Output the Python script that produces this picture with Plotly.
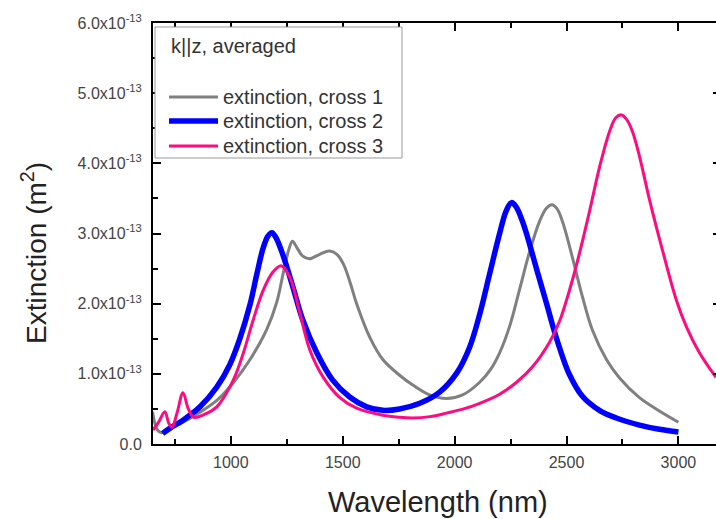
import plotly.graph_objects as go

# Wavelength (nm) and extinction (units of 1e-13 m^2)
wl_cross1 = [650, 660, 672, 690, 720, 780, 860, 940, 1010, 1085, 1160, 1205, 1235, 1258, 1275, 1295,
             1320, 1350, 1395, 1440, 1475, 1505, 1535, 1562, 1621, 1680, 1754, 1813, 1888, 1964,
             2036, 2112, 2160, 2201, 2246, 2290, 2335, 2379, 2410, 2435, 2458, 2482, 2527, 2571,
             2616, 2679, 2737, 2826, 2915, 3000]
ext_cross1 = [0.46, 0.3, 0.2, 0.16, 0.2, 0.3, 0.45, 0.63, 0.87, 1.2, 1.63, 2.02, 2.45, 2.76, 2.89, 2.8,
              2.68, 2.64, 2.7, 2.75, 2.7, 2.55, 2.28, 2.0, 1.52, 1.2, 0.98, 0.84, 0.7, 0.65,
              0.7, 0.88, 1.06, 1.3, 1.68, 2.2, 2.74, 3.17, 3.36, 3.41, 3.35, 3.17, 2.65, 2.1,
              1.62, 1.2, 0.94, 0.66, 0.47, 0.31]

wl_cross2 = [695, 730, 786, 862, 937, 995, 1040, 1085, 1116, 1143, 1165, 1183, 1200, 1232, 1277,
             1321, 1384, 1455, 1531, 1607, 1679, 1754, 1844, 1933, 2009, 2067, 2112, 2156, 2201,
             2230, 2254, 2275, 2300, 2321, 2348, 2379, 2411, 2437, 2469, 2513, 2571, 2647, 2723,
             2826, 2915, 3000]
ext_cross2 = [0.15, 0.23, 0.34, 0.53, 0.81, 1.13, 1.5, 1.98, 2.42, 2.78, 2.96, 3.01, 2.95, 2.7, 2.24,
              1.77, 1.3, 0.91, 0.67, 0.53, 0.48, 0.5, 0.58, 0.74, 1.01, 1.38, 1.85, 2.42, 3.0,
              3.32, 3.44, 3.38, 3.2, 3.0, 2.7, 2.35, 2.0, 1.7, 1.37, 0.99, 0.68, 0.48, 0.37,
              0.27, 0.21, 0.17]

wl_cross3 = [652, 675, 705, 722, 737, 760, 786, 810, 835, 880, 937, 1009, 1054, 1098, 1143, 1188,
             1225, 1263, 1308, 1353, 1411, 1487, 1562, 1679, 1754, 1813, 1890, 1964, 2040, 2112,
             2201, 2277, 2348, 2424, 2470, 2500, 2530, 2558, 2603, 2647, 2692, 2720, 2746, 2770,
             2795, 2826, 2871, 2929, 2991, 3036, 3094, 3168]
ext_cross3 = [0.2, 0.3, 0.46, 0.3, 0.24, 0.45, 0.73, 0.5, 0.38, 0.42, 0.53, 0.9, 1.28, 1.75, 2.18, 2.45,
              2.54, 2.38, 1.87, 1.34, 0.96, 0.66, 0.51, 0.41, 0.38, 0.37, 0.39, 0.44, 0.5, 0.58,
              0.71, 0.88, 1.1, 1.45, 1.76, 2.05, 2.38, 2.72, 3.32, 3.94, 4.45, 4.65, 4.69, 4.62,
              4.45, 4.1, 3.48, 2.76, 2.05, 1.67, 1.3, 0.95]

series_names = ["extinction, cross 1", "extinction, cross 2", "extinction, cross 3"]
legend_title = "k||z, averaged"
y_tick_vals = [0, 1, 2, 3, 4, 5, 6]
y_tick_text = ["0.0"] + [f"{v}.0x10<sup>-13</sup>" for v in y_tick_vals[1:]]
x_tick_vals = [1000, 1500, 2000, 2500, 3000]
SCALE = 1e-13

colors = ["#808080", "#0000FF", "#FF0A80"]
widths = [3, 5.5, 3]

FONT = "Liberation Sans, Arial, sans-serif"

# plot-area geometry (pixels)
L, R, T, B = 153, 716, 23, 444
W, H = R - L, B - T


def px(xp):
    return (xp - L) / W


def py(yp):
    return (B - yp) / H


fig = go.Figure()
for wl, ext, name, c, w in zip([wl_cross1, wl_cross2, wl_cross3],
                               [ext_cross1, ext_cross2, ext_cross3],
                               series_names, colors, widths):
    fig.add_trace(go.Scatter(x=wl, y=[v * SCALE for v in ext], mode="lines", name=name,
                             showlegend=False,
                             line=dict(color=c, width=w, shape="spline", smoothing=1.0)))

# invisible trace bound to right-side axis (for its inner ticks)
fig.add_trace(go.Scatter(x=[], y=[], yaxis="y2", showlegend=False, hoverinfo="skip"))

tick_font = dict(family=FONT, size=16, color="#444444")

# legend drawn as box + samples + texts
shapes = [dict(type="rect", xref="paper", yref="paper", x0=px(155), x1=px(402), y0=py(158), y1=py(27),
               line=dict(color="#999999", width=1), fillcolor="white", layer="above")]
annotations = [dict(text=legend_title, xref="paper", yref="paper", x=px(169), y=py(46),
                    xanchor="left", yanchor="middle", showarrow=False,
                    font=dict(family=FONT, size=20, color="#333333"))]
for i, (name, c, w) in enumerate(zip(series_names, colors, widths)):
    yy = [97, 121, 146][i]
    shapes.append(dict(type="line", xref="paper", yref="paper", x0=px(169), x1=px(218),
                       y0=py(yy), y1=py(yy), line=dict(color=c, width=w), layer="above"))
    annotations.append(dict(text=name, xref="paper", yref="paper", x=px(221), y=py(yy),
                            xanchor="left", yanchor="middle", showarrow=False,
                            font=dict(family=FONT, size=20, color="#333333")))

annotations += [
    dict(text="Extinction (m<sup>2</sup>)", xref="paper", yref="paper",
         x=px(34), y=py(253), textangle=-90, showarrow=False,
         xanchor="center", yanchor="middle", font=dict(family=FONT, size=28, color="#222222")),
    dict(text="Wavelength (nm)", xref="paper", yref="paper",
         x=px(438), y=py(502), showarrow=False,
         xanchor="center", yanchor="middle", font=dict(family=FONT, size=29, color="#222222")),
]

fig.update_layout(
    width=716, height=519,
    margin=dict(l=L, r=716 - R, t=T, b=519 - B),
    paper_bgcolor="white", plot_bgcolor="white",
    font=dict(family=FONT, color="#222222"),
    showlegend=False,
    xaxis=dict(range=[652, 3168], tickvals=x_tick_vals, ticks="inside", ticklen=8, tickwidth=2,
               tickcolor="black", showline=True, linecolor="black", linewidth=2, mirror="ticks",
               showgrid=False, zeroline=False, tickfont=tick_font, ticklabelstandoff=3,
               minor=dict(tickvals=[750, 1250, 1750, 2250, 2750], ticks="inside", ticklen=5,
                          tickwidth=2, tickcolor="black")),
    yaxis=dict(range=[0, 6 * SCALE], tickvals=[v * SCALE for v in y_tick_vals], ticktext=y_tick_text,
               ticks="inside", ticklen=8, tickwidth=2, tickcolor="black", showline=True,
               linecolor="black", linewidth=2, showgrid=False, zeroline=False, tickfont=tick_font,
               ticklabelstandoff=6,
               minor=dict(tickvals=[(v + 0.5) * SCALE for v in range(6)], ticks="inside", ticklen=5,
                          tickwidth=2, tickcolor="black")),
    yaxis2=dict(range=[0, 6 * SCALE], overlaying="y", side="right", tickvals=[v * SCALE for v in y_tick_vals],
                ticks="inside", ticklen=3, tickwidth=2, tickcolor="black", showticklabels=False,
                showline=False, showgrid=False, zeroline=False),
    shapes=shapes,
    annotations=annotations,
)

fig.write_html("out.html")
